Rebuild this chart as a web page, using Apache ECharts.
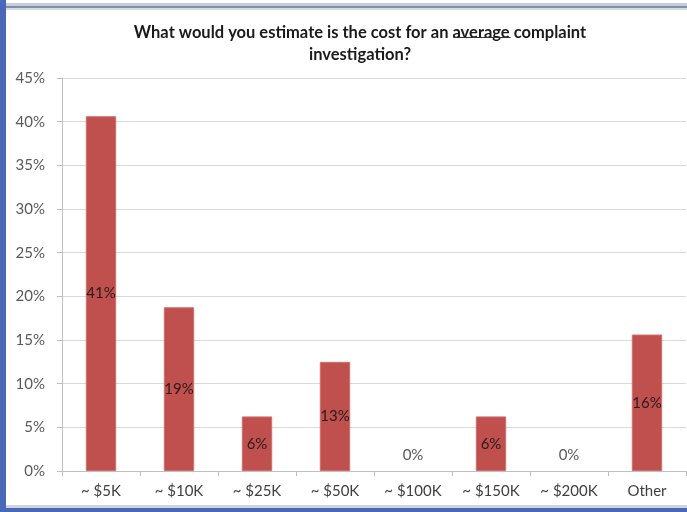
<!DOCTYPE html>
<html>
<head>
<meta charset="utf-8">
<script src="https://cdn.jsdelivr.net/npm/echarts@6/dist/echarts.min.js"></script>
<style>html,body{margin:0;padding:0;background:#fff}#c{width:687px;height:512px}</style>
</head>
<body>
<div id="c"></div>
<script>
const categories = ['~ $5K', '~ $10K', '~ $25K', '~ $50K', '~ $100K', '~ $150K', '~ $200K', 'Other'];
const values = [40.625, 18.75, 6.25, 12.5, 0, 6.25, 0, 15.625];
const yTicks = [0, 5, 10, 15, 20, 25, 30, 35, 40, 45];
const titleLine1Pre = 'What would you estimate is the cost for an ';
const titleUnder = 'average';
const titleLine1Post = ' complaint';
const titleLine2 = 'investigation?';

const font = 'Lato, "Open Sans", sans-serif';
const titleSize = 16.5;
const cv = document.createElement('canvas').getContext('2d');
cv.font = 'bold ' + titleSize + 'px Lato';
const line1W = cv.measureText(titleLine1Pre + titleUnder + titleLine1Post).width;
const preW = cv.measureText(titleLine1Pre).width;
const underW = cv.measureText(titleUnder).width;
const titleCenter = 355;
const renderedCenter = titleCenter + 6;
const line1Left = renderedCenter - line1W / 2;

const chart = echarts.init(document.getElementById('c'));
chart.setOption({
  animation: false,
  backgroundColor: '#fff',
  title: {
    text: titleLine1Pre + titleUnder + titleLine1Post + '\n' + titleLine2,
    left: titleCenter,
    textAlign: 'center',
    top: 17,
    textStyle: {
      fontFamily: font, fontSize: titleSize, fontWeight: 'bold', color: '#1a1a1a', lineHeight: 22
    }
  },
  graphic: [
    { type: 'rect', shape: { x: 0, y: 0, width: 6, height: 512 }, style: { fill: '#4a68b8' }, z: 10 },
    { type: 'rect', shape: { x: 6, y: 3, width: 681, height: 3 }, style: { fill: '#c8ccd6' }, z: 10 },
    { type: 'rect', shape: { x: 6, y: 6, width: 681, height: 2 }, style: { fill: '#7f8fb0' }, z: 10 },
    { type: 'rect', shape: { x: 6, y: 8, width: 681, height: 2 }, style: { fill: '#d8dbe2' }, z: 10 },
    { type: 'rect', shape: { x: 6, y: 505, width: 681, height: 3 }, style: { fill: '#d0d3da' }, z: 10 },
    { type: 'rect', shape: { x: 0, y: 508, width: 687, height: 4 }, style: { fill: '#4a68b8' }, z: 10 },
    { type: 'line', shape: { x1: line1Left + preW, y1: 37.5, x2: line1Left + preW + underW, y2: 37.5 }, style: { stroke: '#333', lineWidth: 1 }, z: 10 }
  ],
  grid: { left: 62, right: 1, top: 78, bottom: 41 },
  xAxis: {
    type: 'category',
    data: categories,
    axisLine: { lineStyle: { color: '#bfbfbf' } },
    axisTick: { show: true, length: 5, lineStyle: { color: '#bfbfbf' } },
    axisLabel: { fontFamily: font, fontSize: 15, color: '#404040', margin: 13 }
  },
  yAxis: {
    type: 'value',
    min: 0, max: 45, interval: 5,
    axisLine: { show: true, lineStyle: { color: '#bfbfbf' } },
    axisTick: { show: true, length: 5, lineStyle: { color: '#bfbfbf' } },
    splitLine: { lineStyle: { color: '#d9d9d9' } },
    axisLabel: { fontFamily: font, fontSize: 15, color: '#595959', margin: 17, formatter: v => yTicks.includes(v) ? v + '%' : '' }
  },
  series: [{
    type: 'bar',
    barWidth: '39%',
    data: values.map(v => v === 0
      ? { value: v, itemStyle: { borderWidth: 0 }, label: { position: 'top', distance: 8, color: '#595959' } }
      : v),
    itemStyle: { color: '#c0504d', borderColor: '#cf6f6c', borderWidth: 1 },
    label: {
      show: true, position: 'inside', fontFamily: font, fontSize: 15, color: '#2a1a1a',
      formatter: p => Math.round(p.value) + '%'
    }
  }]
});
</script>
</body>
</html>
